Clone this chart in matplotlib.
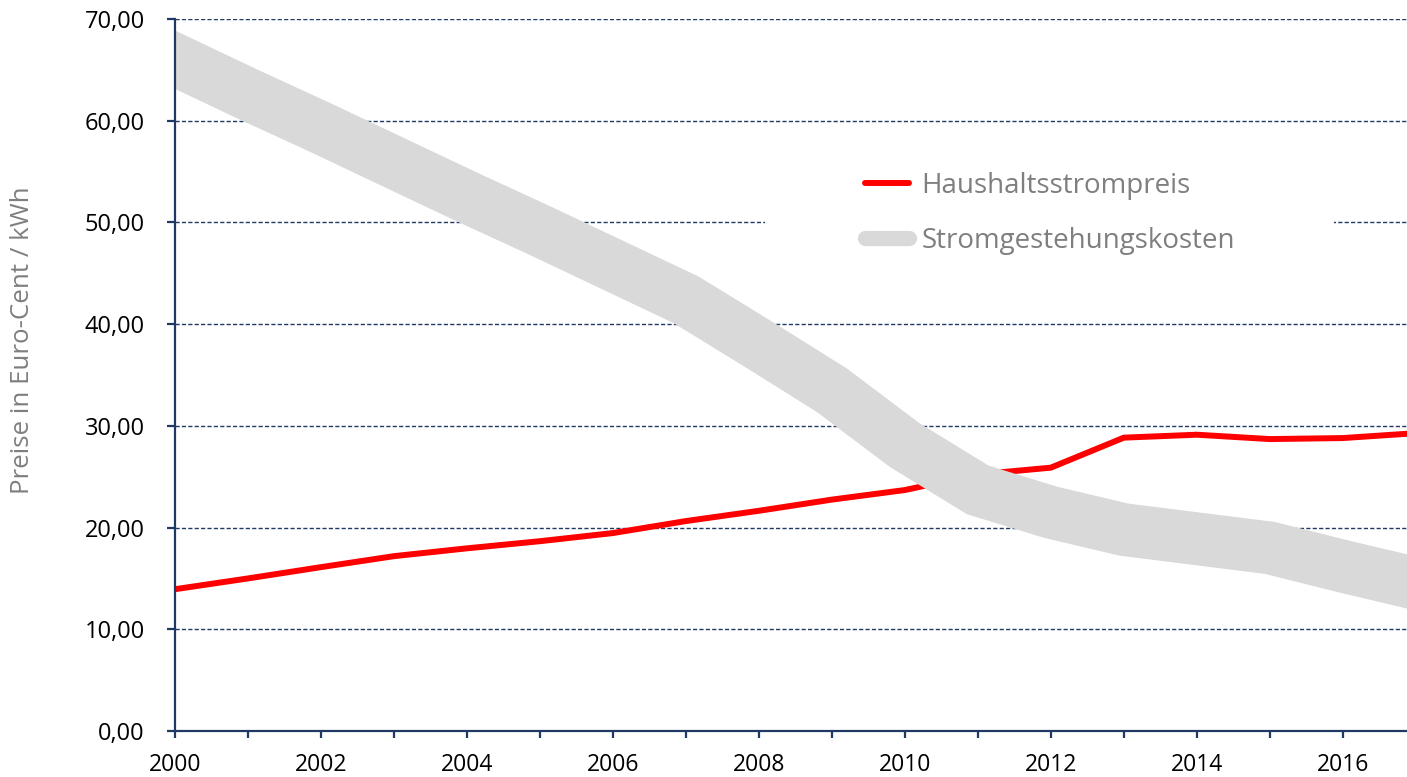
import matplotlib
matplotlib.use("Agg")
import matplotlib.pyplot as plt
from matplotlib.patches import Rectangle
from matplotlib.lines import Line2D
from matplotlib.ticker import FuncFormatter, MultipleLocator

plt.rcParams['font.family'] = ['Open Sans', 'DejaVu Sans']

years = list(range(2000, 2018))
haushaltsstrompreis = [13.94, 15.0, 16.11, 17.19, 17.96, 18.66, 19.46, 20.64, 21.65,
                       22.75, 23.69, 25.23, 25.89, 28.84, 29.13, 28.70, 28.80, 29.28]
stromgestehungskosten = [66.0, 62.6, 59.3, 55.9, 52.5, 49.2, 45.8, 42.4, 38.0,
                         33.5, 28.1, 23.7, 21.5, 19.8, 18.9, 18.0, 16.2, 14.5]
series_names = ["Haushaltsstrompreis", "Stromgestehungskosten"]
ylabel = "Preise in Euro-Cent / kWh"

navy = "#1f3864"
red = "#ff0000"
gray = "#d9d9d9"
textgray = "#7f7f7f"

W, H = 1407, 777
fig = plt.figure(figsize=(W / 100, H / 100), dpi=100)
ax = fig.add_axes([175 / W, 1 - 731 / H, (1407 - 175) / W, (731 - 19) / H])

ax.set_xlim(2000, 2016.88)
ax.set_ylim(0, 70)

# grid
for v in range(10, 71, 10):
    ax.axhline(v, color=navy, lw=1.0, dashes=(3, 1.6), zorder=0.5)

# white box behind legend
ax.add_patch(Rectangle((2008.08, 40.6), 7.8, 18.8, facecolor="white",
                       edgecolor="none", zorder=0.8))

ax.plot(years, haushaltsstrompreis, color=red, lw=4.3, zorder=2,
        solid_joinstyle="miter", solid_capstyle="butt")
ax.plot(years, stromgestehungskosten, color=gray, lw=38, zorder=3,
        solid_joinstyle="miter", solid_capstyle="projecting")

for s in ["top", "right"]:
    ax.spines[s].set_visible(False)
for s in ["left", "bottom"]:
    ax.spines[s].set_color(navy)
    ax.spines[s].set_linewidth(1.6)
    ax.spines[s].set_zorder(4)

ax.yaxis.set_major_locator(MultipleLocator(10))
ax.yaxis.set_major_formatter(FuncFormatter(lambda v, p: f"{v:.2f}".replace(".", ",")))
ax.xaxis.set_major_locator(MultipleLocator(2))
ax.xaxis.set_minor_locator(MultipleLocator(1))
ax.xaxis.set_major_formatter(FuncFormatter(lambda v, p: f"{int(round(v))}"))
ax.tick_params(axis="y", which="major", length=5.8, width=1.6, color=navy,
               labelsize=17, labelcolor="black", pad=16)
ax.tick_params(axis="x", which="both", length=5, width=1.6, color=navy,
               labelsize=16.5, labelcolor="black", pad=10.5)

fig.text(23 / W, 1 - 340 / H, ylabel, rotation=90, ha="center", va="center",
         color=textgray, fontsize=18.6)

handles = [Line2D([], [], color=red, lw=4.3, solid_capstyle="round"),
           Line2D([], [], color=gray, lw=11, solid_capstyle="round")]
leg = ax.legend(handles, series_names, loc="upper left",
                bbox_to_anchor=(865 / W, 1 - 172 / H), bbox_transform=fig.transFigure,
                frameon=False, fontsize=20, labelcolor=textgray,
                handlelength=1.58, handletextpad=0.45, labelspacing=0.98,
                borderpad=0, borderaxespad=0)
leg.set_zorder(5)

fig.savefig("out.png", dpi=100)
